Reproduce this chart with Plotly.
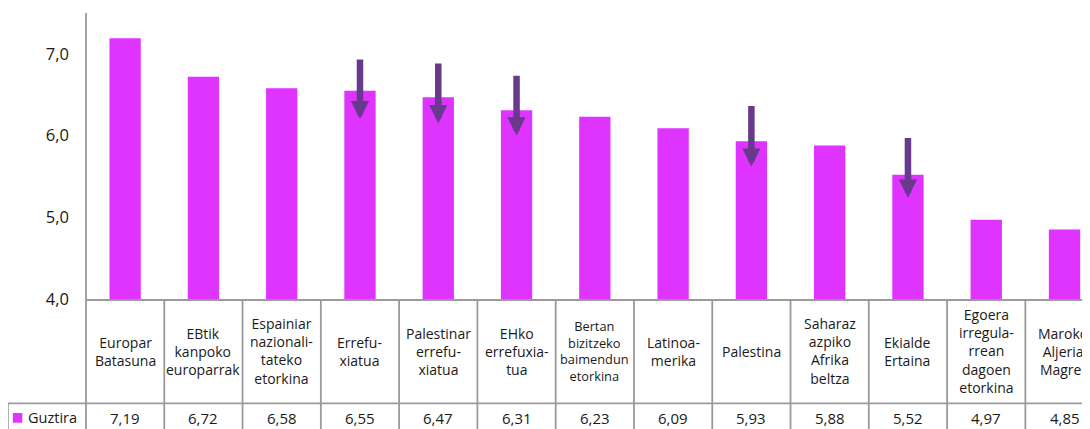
import plotly.graph_objects as go

# ---------------- data ----------------
categories = [
    "Europar<br>Batasuna",
    "EBtik<br>kanpoko<br>europarrak",
    "Espainiar<br>nazionali-<br>tateko<br>etorkina",
    "Errefu-<br>xiatua",
    "Palestinar<br>errefu-<br>xiatua",
    "EHko<br>errefuxia-<br>tua",
    "Bertan<br>bizitzeko<br>baimendun<br>etorkina",
    "Latinoa-<br>merika",
    "Palestina",
    "Saharaz<br>azpiko<br>Afrika<br>beltza",
    "Ekialde<br>Ertaina",
    "Egoera<br>irregula-<br>rrean<br>dagoen<br>etorkina",
    "Maroko,<br>Aljeria,<br>Magreb",
]
values = [7.19, 6.72, 6.58, 6.55, 6.47, 6.31, 6.23, 6.09, 5.93, 5.88, 5.52, 4.97, 4.85]
value_labels = ["7,19", "6,72", "6,58", "6,55", "6,47", "6,31", "6,23",
                "6,09", "5,93", "5,88", "5,52", "4,97", "4,85"]
series_name = "Guztira"
y_tick_values = [4, 5, 6, 7]
y_tick_labels = ["4,0", "5,0", "6,0", "7,0"]
y_range = [4, 7.5]

# arrows (category index, start value, end value)
arrow_index = [3, 4, 5, 8, 10]
arrow_from = [6.95, 6.90, 6.75, 6.38, 5.99]
arrow_to = [6.20, 6.15, 6.00, 5.62, 5.24]

# ---------------- style / layout ----------------
OFF = 8  # page body margin; positions below are window pixels
W, H = 1090 - OFF, 429 - OFF
PLOT_L, PLOT_T, PLOT_B = 86.4 - OFF, 13.0 - OFF, 299.0 - OFF
PLOT_W = W - PLOT_L
PLOT_H = PLOT_B - PLOT_T
BAR_COLOR = "#DF33FF"
ARROW_COLOR = "#673A8C"
GRID = "#9A9A9A"
TEXT = "#1a1a1a"
FONT = "Open Sans"
x_range = [-0.5, -0.5 + PLOT_W / 78.25]
label_font_override = {6: 12.8}


def px_x(p):
    return (p - OFF - PLOT_L) / PLOT_W


def px_y(p):
    return (PLOT_B - (p - OFF)) / PLOT_H


n = len(categories)
xs = list(range(n))

fig = go.Figure()
fig.add_trace(go.Bar(
    x=xs, y=values, width=0.4, name=series_name,
    marker=dict(color=BAR_COLOR, line=dict(width=0)),
    showlegend=False,
))

shapes = []
annotations = []

# arrows
for i, y0, y1 in zip(arrow_index, arrow_from, arrow_to):
    annotations.append(dict(
        x=i, y=y1, ax=i, ay=y0, xref="x", yref="y", axref="x", ayref="y",
        showarrow=True, arrowhead=2, arrowwidth=6.5, arrowsize=0.56,
        arrowcolor=ARROW_COLOR, text="",
    ))

# table lines
bottom = px_y(440)
row_top = px_y(403.3)
shapes.append(dict(type="line", xref="paper", yref="paper", x0=0, x1=0,
                   y0=1, y1=bottom, line=dict(color=GRID, width=1.8)))
for i in range(n - 1):
    shapes.append(dict(type="line", xref="x", yref="paper", x0=i + 0.5, x1=i + 0.5,
                       y0=0, y1=bottom, line=dict(color=GRID, width=1.8)))
legend_left = px_x(8.3)
shapes.append(dict(type="line", xref="paper", yref="paper", x0=legend_left, x1=1.02,
                   y0=row_top, y1=row_top, line=dict(color=GRID, width=1.8)))
shapes.append(dict(type="line", xref="paper", yref="paper", x0=legend_left, x1=legend_left,
                   y0=row_top, y1=bottom, line=dict(color=GRID, width=1.8)))
# legend key
shapes.append(dict(type="rect", xref="paper", yref="paper",
                   x0=px_x(13.3), x1=px_x(22.7), y0=px_y(413), y1=px_y(422.7),
                   fillcolor=BAR_COLOR, line=dict(width=0)))
annotations.append(dict(x=px_x(26.0), y=px_y(417.5), xref="paper", yref="paper",
                        xanchor="left", yanchor="middle", showarrow=False,
                        text=series_name, font=dict(family=FONT, size=14.5, color=TEXT)))

# category labels and values
for i, (lab, val) in enumerate(zip(categories, value_labels)):
    annotations.append(dict(
        x=i, y=px_y(351), xref="x", yref="paper", xanchor="center", yanchor="middle",
        showarrow=False, text=lab, align="center",
        font=dict(family=FONT, size=label_font_override.get(i, 14), color=TEXT),
    ))
    annotations.append(dict(
        x=i, y=px_y(417.5), xref="x", yref="paper", xanchor="center", yanchor="middle",
        showarrow=False, text=val,
        font=dict(family=FONT, size=15, color=TEXT),
    ))

fig.update_layout(
    width=W, height=H,
    margin=dict(l=PLOT_L, r=0, t=PLOT_T, b=H - PLOT_B, pad=0),
    paper_bgcolor="white", plot_bgcolor="white",
    bargap=0.6,
    xaxis=dict(range=x_range, showticklabels=False, showgrid=False, zeroline=False,
               showline=True, linecolor=GRID, linewidth=1.8, ticks=""),
    yaxis=dict(range=y_range, tickvals=y_tick_values, ticktext=y_tick_labels,
               showgrid=False, zeroline=False, showline=False, ticks="",
               ticklabelstandoff=16,
               tickfont=dict(family=FONT, size=16.5, color=TEXT)),
    shapes=shapes, annotations=annotations,
    font=dict(family=FONT),
)

fig.write_html("out.html")
